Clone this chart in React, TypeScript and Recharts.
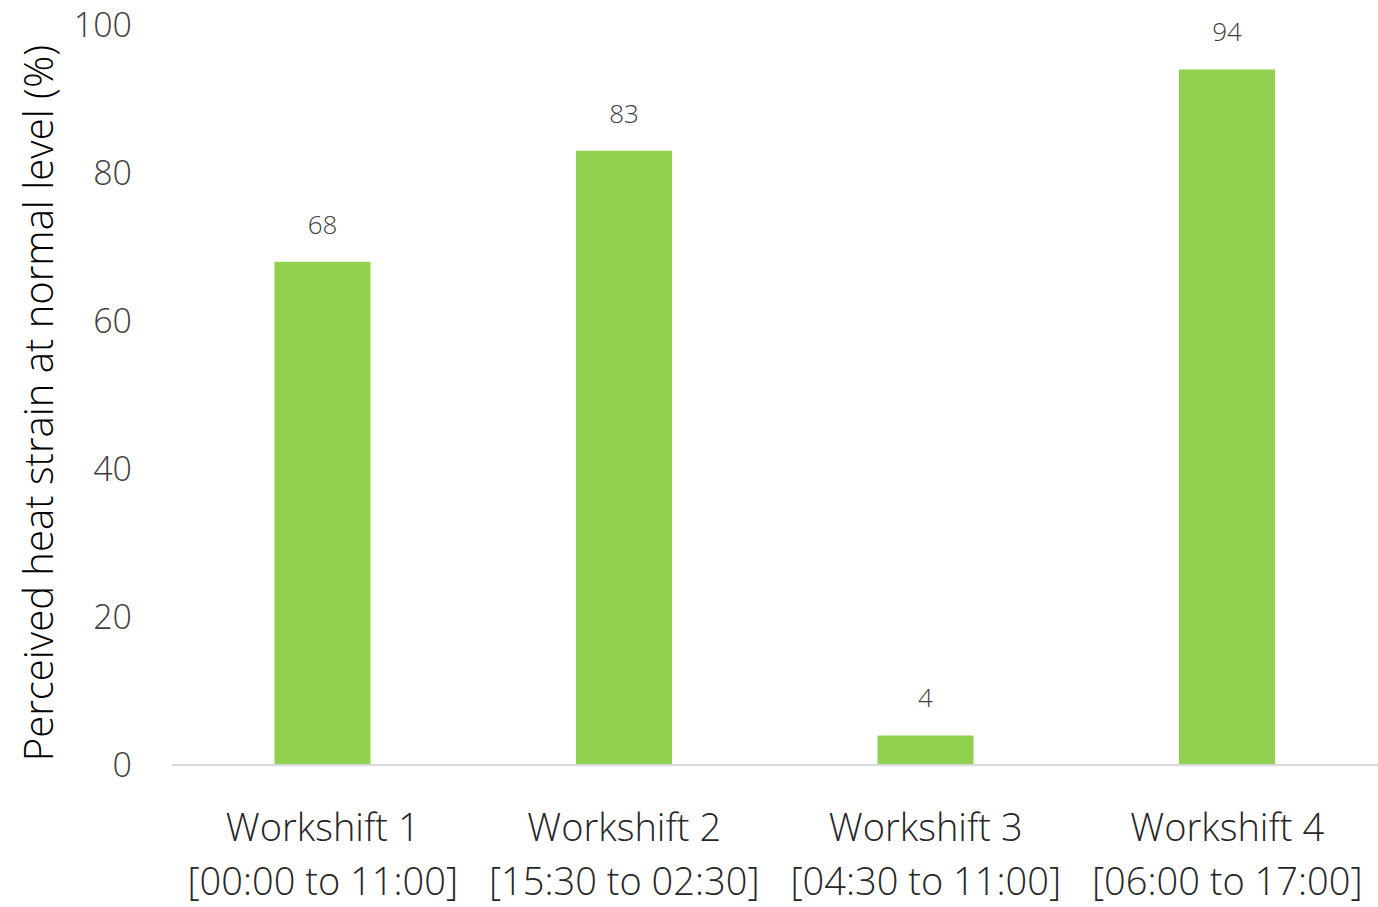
import React from 'react';
import { BarChart, Bar, XAxis, YAxis, LabelList } from 'recharts';

const shifts = ['Workshift 1', 'Workshift 2', 'Workshift 3', 'Workshift 4'];
const hours = ['[00:00 to 11:00]', '[15:30 to 02:30]', '[04:30 to 11:00]', '[06:00 to 17:00]'];
const strain = [68, 83, 4, 94];
const yTicks = [0, 20, 40, 60, 80, 100];

const data = shifts.map((s, i) => ({ name: s, hours: hours[i], value: strain[i] }));

const FONT = '"Open Sans", "Noto Sans", sans-serif';

const ShiftTick = (props: any) => {
  const { x, y, payload } = props;
  const i = payload.index;
  return (
    <text x={x} y={y} textAnchor="middle" fill="#262626" fontFamily={FONT} fontSize={38} fontWeight={300}>
      <tspan x={x} dy={68}>{shifts[i]}</tspan>
      <tspan x={x} dy={54}>{hours[i]}</tspan>
    </text>
  );
};

export default function App() {
  return (
    <div style={{ position: 'absolute', left: 0, top: 0, background: '#fff' }}>
      <BarChart
        width={1378}
        height={907}
        data={data}
        margin={{ top: 25, right: 0, bottom: 112, left: 0 }}
        barCategoryGap="34%"
      >
        <XAxis
          dataKey="name"
          axisLine={{ stroke: '#d9d9d9', strokeWidth: 2 }}
          tickLine={false}
          tick={<ShiftTick />}
          interval={0}
        />
        <YAxis
          width={172}
          domain={[0, 100]}
          ticks={yTicks}
          axisLine={false}
          tickLine={false}
          tick={{ fill: '#404040', fontSize: 34, fontFamily: FONT, fontWeight: 300, dx: -32 }}
          label={{
            value: 'Perceived heat strain at normal level (%)',
            angle: -90,
            position: 'insideLeft',
            dx: 34,
            dy: 8,
            style: { textAnchor: 'middle', fill: '#000', fontSize: 40, fontFamily: FONT, fontWeight: 300 },
          }}
        />
        <Bar dataKey="value" fill="#92d050" isAnimationActive={false}>
          <LabelList
            dataKey="value"
            position="top"
            offset={28}
            style={{ fill: '#404040', fontSize: 26, fontFamily: FONT, fontWeight: 300 }}
          />
        </Bar>
      </BarChart>
    </div>
  );
}
